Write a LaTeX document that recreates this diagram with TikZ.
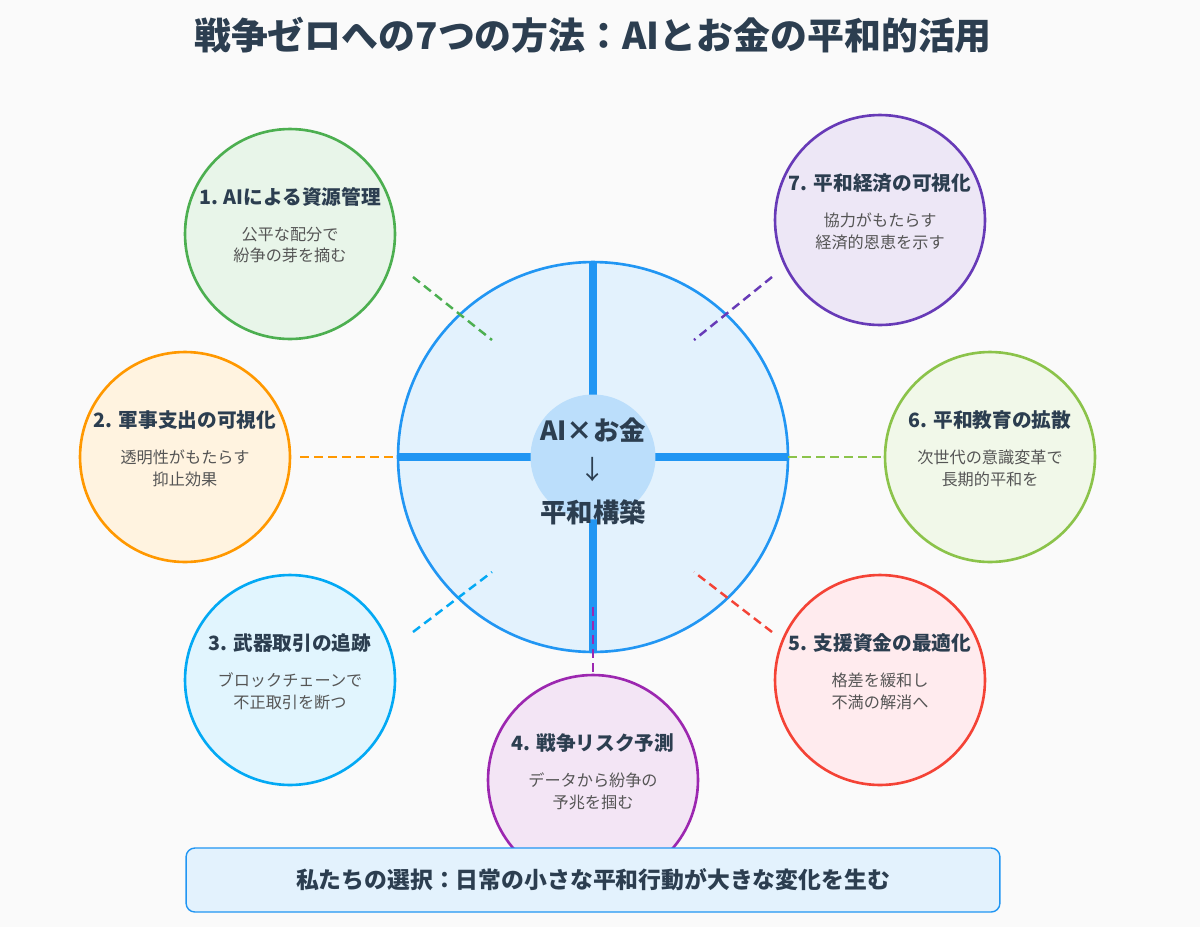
\documentclass[tikz,border=0pt]{standalone}
\usepackage{fontspec}
\setmainfont{Noto Sans CJK JP}
\definecolor{ink}{HTML}{2C3E50}
\definecolor{sub}{HTML}{555555}
\definecolor{hubline}{HTML}{2196F3}
\definecolor{hubfill}{HTML}{E3F2FD}
\definecolor{corefill}{HTML}{BBDEFB}
\definecolor{gA}{HTML}{4CAF50}\definecolor{gAf}{HTML}{E8F5E9}
\definecolor{gB}{HTML}{FF9800}\definecolor{gBf}{HTML}{FFF3E0}
\definecolor{gC}{HTML}{03A9F4}\definecolor{gCf}{HTML}{E1F5FE}
\definecolor{gD}{HTML}{9C27B0}\definecolor{gDf}{HTML}{F3E5F5}
\definecolor{gE}{HTML}{F44336}\definecolor{gEf}{HTML}{FFEBEE}
\definecolor{gF}{HTML}{8BC34A}\definecolor{gFf}{HTML}{F1F8E9}
\definecolor{gG}{HTML}{673AB7}\definecolor{gGf}{HTML}{EDE7F6}

\begin{document}
\begin{tikzpicture}
    [
        x=0.02cm, y=-0.02cm,
        Way/.style={circle,minimum size=4.2cm,line width=1.5pt,inner sep=0pt},
        WayTitle/.style={font=\bfseries\fontsize{11.2}{13}\selectfont,text=ink},
        WayText/.style={font=\fontsize{9.2}{12.5}\selectfont,text=sub,align=center},
        Link/.style={line width=1.4pt,dash pattern=on 5pt off 3pt}
    ]
    \useasboundingbox[fill=black!2] (0,0) rectangle (1200,927);
    \node[font=\bfseries\fontsize{21}{24}\selectfont,text=ink] (Title) at (593,35) {戦争ゼロへの7つの方法：AIとお金の平和的活用};

    % central hub
    \node[circle,minimum size=7.8cm,draw=hubline,fill=hubfill,line width=1.5pt] (Hub) at (593,457) {};
    \draw[hubline,line width=4.5pt] (593,262) -- (593,652) (398,457) -- (788,457);
    \node[circle,minimum size=2.5cm,fill=corefill] (Core) at (593,457) {};
    \node[font=\bfseries\fontsize{15}{18}\selectfont,text=ink] (CoreA) at (593,430) {AI×お金};
    \node[font=\fontsize{15}{18}\selectfont,text=ink] (CoreB) at (593,470) {↓};
    \node[font=\bfseries\fontsize{15}{18}\selectfont,text=ink] (CoreC) at (593,512) {平和構築};

    % seven ways
    \foreach \n/\px/\py/\col/\bg/\title/\la/\lb in {
        1/290/234/gA/gAf/{1. AIによる資源管理}/公平な配分で/紛争の芽を摘む,
        2/185/457/gB/gBf/{2. 軍事支出の可視化}/透明性がもたらす/抑止効果,
        3/290/680/gC/gCf/{3. 武器取引の追跡}/ブロックチェーンで/不正取引を断つ,
        4/593/780/gD/gDf/{4. 戦争リスク予測}/データから紛争の/予兆を掴む,
        5/880/680/gE/gEf/{5. 支援資金の最適化}/格差を緩和し/不満の解消へ,
        6/990/457/gF/gFf/{6. 平和教育の拡散}/次世代の意識変革で/長期的平和を,
        7/880/220/gG/gGf/{7. 平和経済の可視化}/協力がもたらす/経済的恩恵を示す}
    {
        \node[Way,draw=\col,fill=\bg] (Way\n) at (\px,\py) {};
        \node[WayTitle] (WayT\n) at (\px,\py-37) {\title};
        \node[WayText] (WayL\n) at (\px,\py+11) {\la\\\lb};
    }

    % dashed links
    \foreach \n/\col/\ax/\ay/\bx/\by in {1/gA/413/277/492/340, 2/gB/300/457/398/457,
        3/gC/413/632/492/572, 5/gE/772/632/694/572, 6/gF/788/457/885/457,
        7/gG/772/277/694/340, 4/gD/593/672/593/607}
    {
        \coordinate (LinkA\n) at (\ax,\ay);
        \coordinate (LinkB\n) at (\bx,\by);
        \draw[Link,\col] (LinkA\n) -- (LinkB\n);
    }

    % bottom banner
    \node[draw=hubline,fill=hubfill,line width=0.8pt,rounded corners=5pt,
        minimum width=16.28cm,minimum height=1.28cm,
        font=\bfseries\fontsize{13}{16}\selectfont,text=ink] (Banner) at (593,880)
        {私たちの選択：日常の小さな平和行動が大きな変化を生む};
\end{tikzpicture}
\end{document}
